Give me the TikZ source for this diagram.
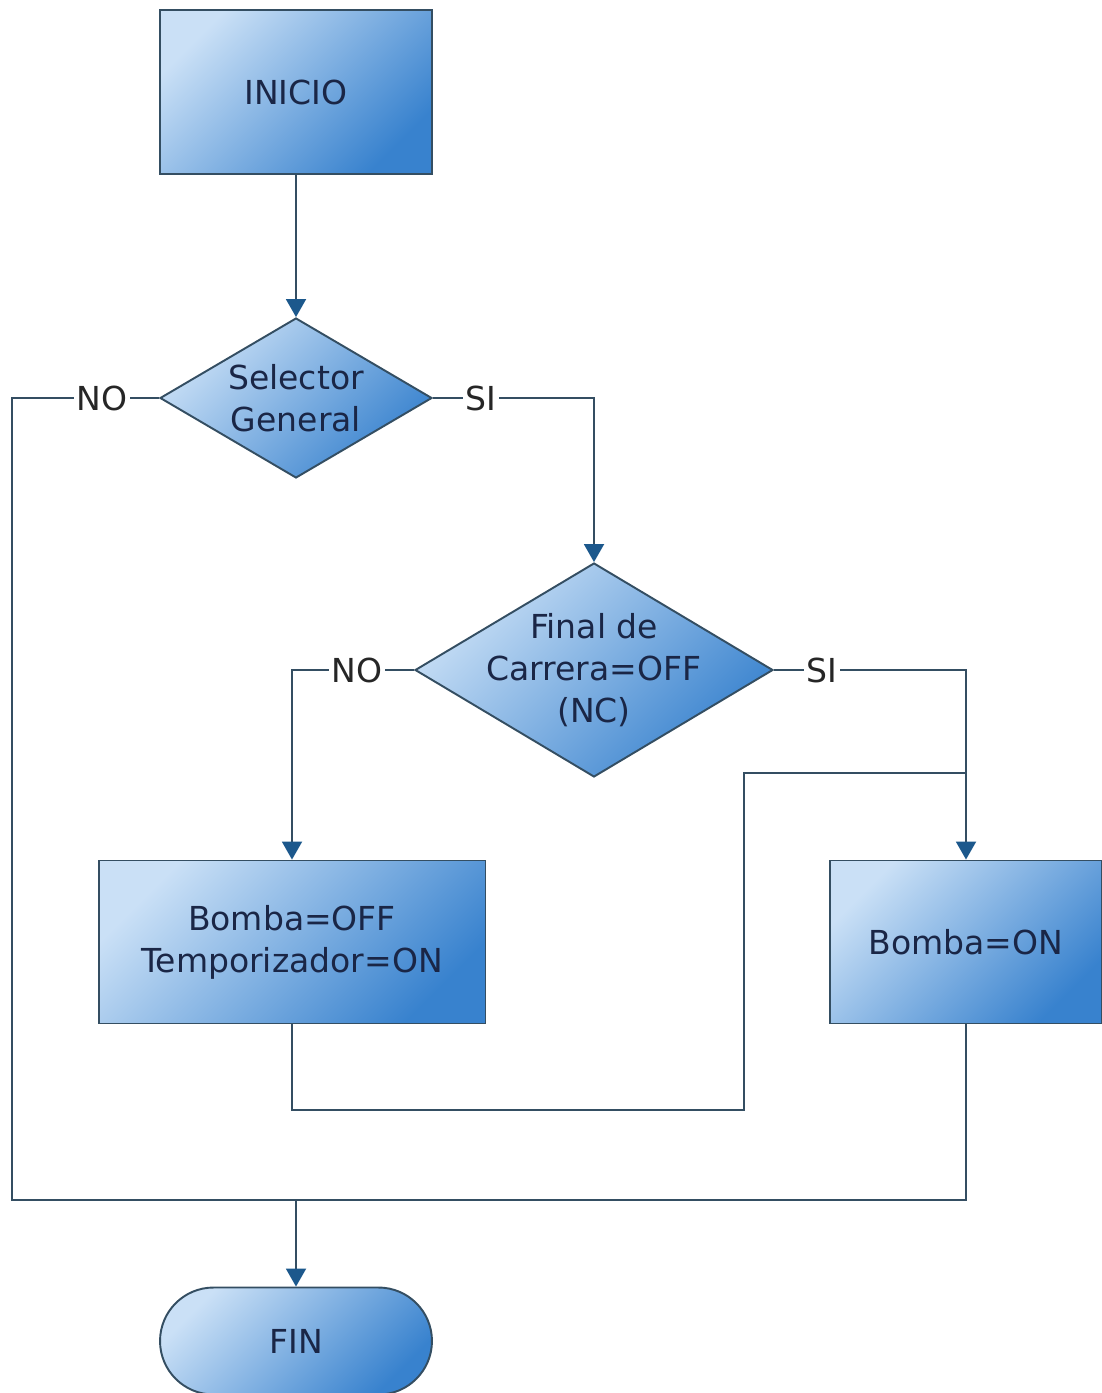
\documentclass[tikz,border=0pt]{standalone}
\usepackage{fontspec}
\setmainfont{DejaVu Sans}
\usepackage{tikz}
\usetikzlibrary{positioning,arrows.meta,shapes.geometric,shapes.misc}
\definecolor{lightclr}{RGB}{202,224,246}
\definecolor{darkclr}{RGB}{56,130,206}
\definecolor{edgeclr}{RGB}{52,78,98}
\definecolor{tipclr}{RGB}{28,88,140}
\definecolor{txtclr}{RGB}{26,38,70}
\newcommand{\flowfont}{\fontsize{18.8pt}{24pt}\selectfont}
\tikzset{
  base/.style={draw=edgeclr,line width=1.1pt,top color=lightclr,
               bottom color=darkclr,shading angle=45,text=txtclr,
               align=center,inner sep=0pt,font=\flowfont},
  box/.style={base,rectangle,minimum width=5.44cm,minimum height=3.26cm},
  dec/.style={base,diamond,minimum width=5.44cm,minimum height=3.2cm},
  term/.style={base,rounded rectangle,minimum width=5.44cm,
               minimum height=2.14cm},
  txt/.style={text=txtclr,align=center,font=\flowfont,inner sep=0pt},
  line/.style={draw=edgeclr,line width=1.1pt},
  arr/.style={line,-{Triangle[length=3.6mm,width=4mm,color=tipclr]}},
  lbl/.style={fill=white,inner sep=1.5pt,text=black!85,font=\flowfont},
}
\begin{document}
\begin{tikzpicture}[x=0.02cm,y=-0.02cm]
\path[use as bounding box,fill=white] (0,0) rectangle (1102,1393);
\node[box,minimum height=3.28cm] (ini) at (296,92) {INICIO};
\node[dec,label={[txt]center:Selector\\General}] (sel) at (296,398) {};
\node[dec,minimum width=7.16cm,minimum height=4.28cm,
      label={[txt]center:Final de\\Carrera=OFF\\(NC)}] (fc) at (594,670) {};
\node[box,minimum width=7.74cm] (off) at (292,942)
      {Bomba=OFF\\Temporizador=ON};
\node[box] (on) at (966,942) {Bomba=ON};
\node[term] (fin) at (296,1341) {FIN};
\coordinate (bl) at (12,1200);
\coordinate (jfin) at (296,1200);
\coordinate (ret) at (744,1110);
\coordinate (jret) at (966,773);
\draw[arr] (ini) -- (sel);
\draw[arr] (sel.east) -- node[lbl,pos=0.3]{SI} (sel.east -| fc.north)
      -- (fc.north);
\draw[line] (sel.west) -- node[lbl,pos=0.39]{NO} (sel.west -| bl)
      -- (bl) -- (on.south |- bl) -- (on.south);
\draw[arr] (fc.west) -- node[lbl,pos=0.47]{NO} (fc.west -| off.north)
      -- (off.north);
\draw[arr] (fc.east) -- node[lbl,pos=0.25]{SI} (fc.east -| on.north)
      -- (on.north);
\draw[line] (off.south) |- (ret) |- (jret);
\draw[arr] (jfin) -- (fin.north);
\end{tikzpicture}
\end{document}
